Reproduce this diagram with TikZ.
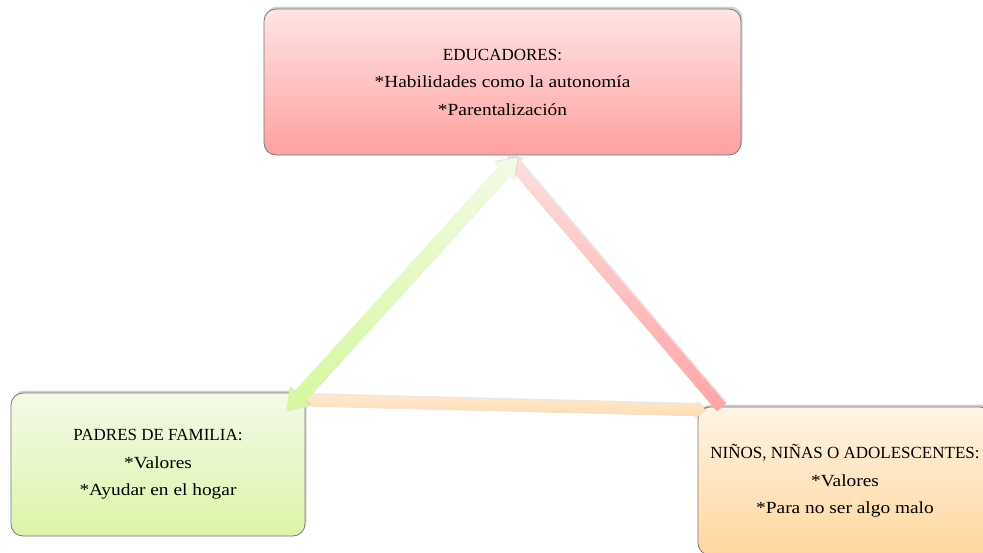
\documentclass[tikz,border=0pt]{standalone}
\usepackage{fontspec}
\setmainfont{Liberation Serif}
\newfontfamily\wideserif[FakeStretch=1.14]{Liberation Serif}
\usetikzlibrary{calc,shadows}
\definecolor{redTop}{RGB}{255,228,228}
\definecolor{redBot}{RGB}{255,160,160}
\definecolor{grnTop}{RGB}{243,250,232}
\definecolor{grnBot}{RGB}{220,245,168}
\definecolor{orgTop}{RGB}{255,244,230}
\definecolor{orgBot}{RGB}{255,214,156}
\definecolor{gaTop}{RGB}{242,251,230}
\definecolor{gaBot}{RGB}{214,247,158}
\definecolor{paTop}{RGB}{255,222,222}
\definecolor{paBot}{RGB}{255,165,165}
\definecolor{oaTop}{RGB}{255,232,205}
\definecolor{oaBot}{RGB}{255,220,178}
\definecolor{edge}{RGB}{120,120,120}
\newcommand\wl[1]{{\wideserif #1}}
\tikzset{
  box/.style={draw=edge, line width=0.8pt, rounded corners=12pt, align=center,
    font=\fontsize{17}{27.5}\selectfont,
    drop shadow={opacity=0.35, shadow xshift=1.5pt, shadow yshift=2.5pt}},
  arr/.style={draw=none, drop shadow={opacity=0.18, shadow xshift=1pt, shadow yshift=1.5pt}}
}
% single-headed block arrow: #1 style, #2 start, #3 tip, #4 half shaft, #5 half head, #6 head length
\newcommand\blockarrowone[6]{%
  \path[#1] ($(#2)!#4!90:(#3)$)
    -- ($($(#3)!#6!(#2)$)!#4!90:(#3)$)
    -- ($($(#3)!#6!(#2)$)!#5!90:(#3)$)
    -- (#3)
    -- ($($(#3)!#6!(#2)$)!#5!-90:(#3)$)
    -- ($($(#3)!#6!(#2)$)!#4!-90:(#3)$)
    -- ($(#2)!#4!-90:(#3)$) -- cycle;}
\newcommand\blockarrowtwo[6]{%
  \path[#1] (#2)
    -- ($($(#2)!#6!(#3)$)!#5!90:(#3)$)
    -- ($($(#2)!#6!(#3)$)!#4!90:(#3)$)
    -- ($($(#3)!#6!(#2)$)!#4!90:(#3)$)
    -- ($($(#3)!#6!(#2)$)!#5!90:(#3)$)
    -- (#3)
    -- ($($(#3)!#6!(#2)$)!#5!-90:(#3)$)
    -- ($($(#3)!#6!(#2)$)!#4!-90:(#3)$)
    -- ($($(#2)!#6!(#3)$)!#4!-90:(#3)$)
    -- ($($(#2)!#6!(#3)$)!#5!-90:(#3)$)
    -- cycle;}
\begin{document}
\begin{tikzpicture}[x=1pt,y=-1pt]
\useasboundingbox (0,0) rectangle (983,552);
\node[box, top color=redTop, bottom color=redBot, minimum width=477pt, minimum height=146pt]
  (T) at (502.5,82) {EDUCADORES:\\\wl{*Habilidades como la autonomía}\\\wl{*Parentalización}};
\node[box, top color=grnTop, bottom color=grnBot, minimum width=294pt, minimum height=143pt]
  (L) at (158,464.5) {PADRES DE FAMILIA:\\\wl{*Valores}\\\wl{*Ayudar en el hogar}};
\node[box, top color=orgTop, bottom color=orgBot, minimum width=294pt, minimum height=148pt]
  (R) at (845,481) {NIÑOS, NIÑAS O ADOLESCENTES:\\\wl{*Valores}\\\wl{*Para no ser algo malo}};
% connector end points
\coordinate (oA) at ($(L.north east)+(1,8)$);
\coordinate (oB) at ($(R.north west)+(9,4)$);
\coordinate (pA) at ($(R.north west)+(24,1)$);
\coordinate (pB) at ($(T.south)+(5,1)$);
\coordinate (gA) at ($(L.north east)+(-19,19)$);
\coordinate (gB) at ($(T.south)+(15,2)$);
\blockarrowone{arr, top color=oaTop, bottom color=oaBot}{oA}{oB}{6pt}{8.5pt}{11pt}
\blockarrowone{arr, top color=paTop, bottom color=paBot}{pA}{pB}{6pt}{10pt}{12pt}
\blockarrowtwo{arr, top color=gaTop, bottom color=gaBot}{gA}{gB}{7.5pt}{14pt}{20pt}
\end{tikzpicture}
\end{document}
